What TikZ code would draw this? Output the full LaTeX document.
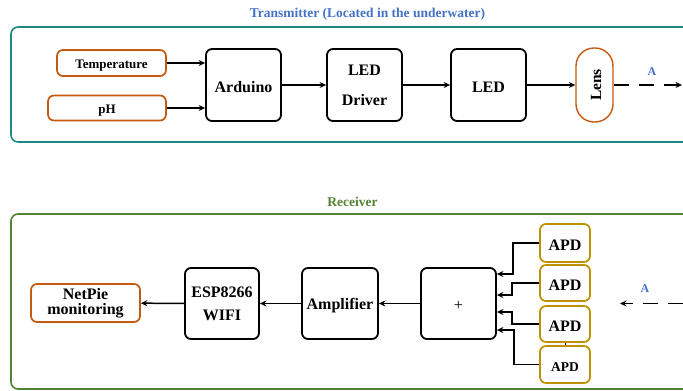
\documentclass[tikz,border=0pt]{standalone}
\usepackage{fontspec}
\setmainfont{Liberation Serif}
\usetikzlibrary{arrows.meta, positioning, calc}
\definecolor{FrameTeal}{RGB}{28,138,132}
\definecolor{FrameGreen}{RGB}{84,130,53}
\definecolor{TitleBlue}{RGB}{68,114,196}
\definecolor{SensOrange}{RGB}{197,90,17}
\definecolor{ApdGold}{RGB}{191,144,0}

\begin{document}
\begin{tikzpicture}[x=1pt,y=-1pt,
        lowtext/.style={execute at begin node={\rule{0pt}{14.5pt}}},
        blk/.style={draw=black,line width=1.8pt,rounded corners=6pt,inner sep=0pt,lowtext,
                    align=center,font=\fontsize{16}{19}\selectfont\bfseries},
        sens/.style={draw=SensOrange,line width=1.7pt,rounded corners=6pt,inner sep=0pt,lowtext,
                     align=center,font=\fontsize{13}{15}\selectfont\bfseries},
        apd/.style={draw=ApdGold,line width=1.7pt,rounded corners=6pt,inner sep=0pt,lowtext,
                    minimum width=50pt,font=\fontsize{16}{19}\selectfont\bfseries},
        arr/.style={-{Stealth[length=6.5pt,width=6pt]},line width=1.5pt},
        dasharr/.style={-{Stealth[length=6.5pt,width=6pt]},line width=1.7pt,dash pattern=on 15pt off 10pt},
        ttl/.style={font=\fontsize{13.5}{15}\selectfont\bfseries},
        lbl/.style={text=TitleBlue,font=\fontsize{12}{14}\selectfont\bfseries}
      ]
        \clip (0,0) rectangle (683,391);
        % Transmitter
        \draw[FrameTeal,line width=1.6pt,rounded corners=7pt] (11,27) rectangle (720,142);
        \node[ttl,text=TitleBlue] (txtitle) at (367.5,14) {Transmitter (Located in the underwater)};
        \node[sens,minimum width=109pt,minimum height=26pt] (temp) at (111.5,63) {Temperature};
        \node[sens,minimum width=118pt,minimum height=25pt] (ph) at (107,108) {pH};
        \node[blk,minimum width=75pt,minimum height=72pt] (arduino) at (243.5,85) {Arduino};
        \node[blk,minimum width=75pt,minimum height=72pt] (driver) at (364.5,85) {LED\\[11pt]Driver};
        \node[blk,minimum width=75pt,minimum height=72pt] (led) at (488.5,85) {LED};
        \node[draw=SensOrange,line width=1.4pt,rounded corners=18pt,minimum width=37pt,
              minimum height=74pt,inner sep=0pt] (lens) at (594.5,85) {};
        \node[rotate=90,font=\fontsize{15.5}{18}\selectfont\bfseries] (lenstext) at ([xshift=1.5pt]lens.center) {Lens};
        \coordinate (txend) at (682,85);
        \draw[arr] (temp.east) -- (temp.east -| arduino.west);
        \draw[arr] (ph.east) -- (ph.east -| arduino.west);
        \draw[arr] (arduino) -- (driver);
        \draw[arr] (driver) -- (led);
        \draw[arr] (led) -- (lens);
        \draw[dasharr] (lens.east) -- (txend);
        \node[lbl] (txa) at (652,72) {A};
        % Receiver
        \draw[FrameGreen,line width=1.6pt,rounded corners=7pt] (11,214) rectangle (720,389);
        \node[ttl,text=FrameGreen] (rxtitle) at (352.5,202) {Receiver};
        \node[sens,minimum width=109pt,minimum height=38pt,font=\fontsize{16}{15}\selectfont\bfseries] (netpie) at (85.5,303) {NetPie\\monitoring};
        \node[blk,minimum width=74pt,minimum height=71pt] (esp) at (222,303.5) {ESP8266\\[4pt]WIFI};
        \node[blk,minimum width=76pt,minimum height=71pt] (amp) at (340,303.5) {Amplifier};
        \node[blk,minimum width=75pt,minimum height=71pt,font=\fontsize{16}{19}\selectfont] (sum) at (458.5,303.5) {+};
        \node[apd,minimum height=38pt] (apd1) at (565,243) {APD};
        \node[apd,minimum height=36pt] (apd2) at (565,283) {APD};
        \node[apd,minimum height=36pt] (apd3) at (565,324) {APD};
        \node[apd,minimum height=37pt,font=\fontsize{13.5}{16}\selectfont\bfseries] (apd4) at (565,364.5) {APD};
        \draw[line width=0.8pt] (apd3.south) -- (apd4.north);
        \draw[arr] (apd1.west) -- ++(-26,0) |- ($(sum.east)+(0,-29.5)$);
        \draw[arr] (apd2.west) -- ++(-27,0) |- ($(sum.east)+(0,-8.5)$);
        \draw[arr] (apd3.west) -- ++(-27,0) |- ($(sum.east)+(0,8.5)$);
        \draw[arr] (apd4.west) -- ++(-25,0) |- ($(sum.east)+(0,26.5)$);
        \draw[arr] (sum) -- (amp);
        \draw[arr] (amp) -- (esp);
        \draw[arr] (esp) -- (netpie);
        \coordinate (rxstart) at (683,303.5);
        \coordinate (rxtip) at (620,303.5);
        \draw[dasharr] (rxstart) -- (rxtip);
        \node[lbl] (rxa) at (645,289) {A};
\end{tikzpicture}
\end{document}
